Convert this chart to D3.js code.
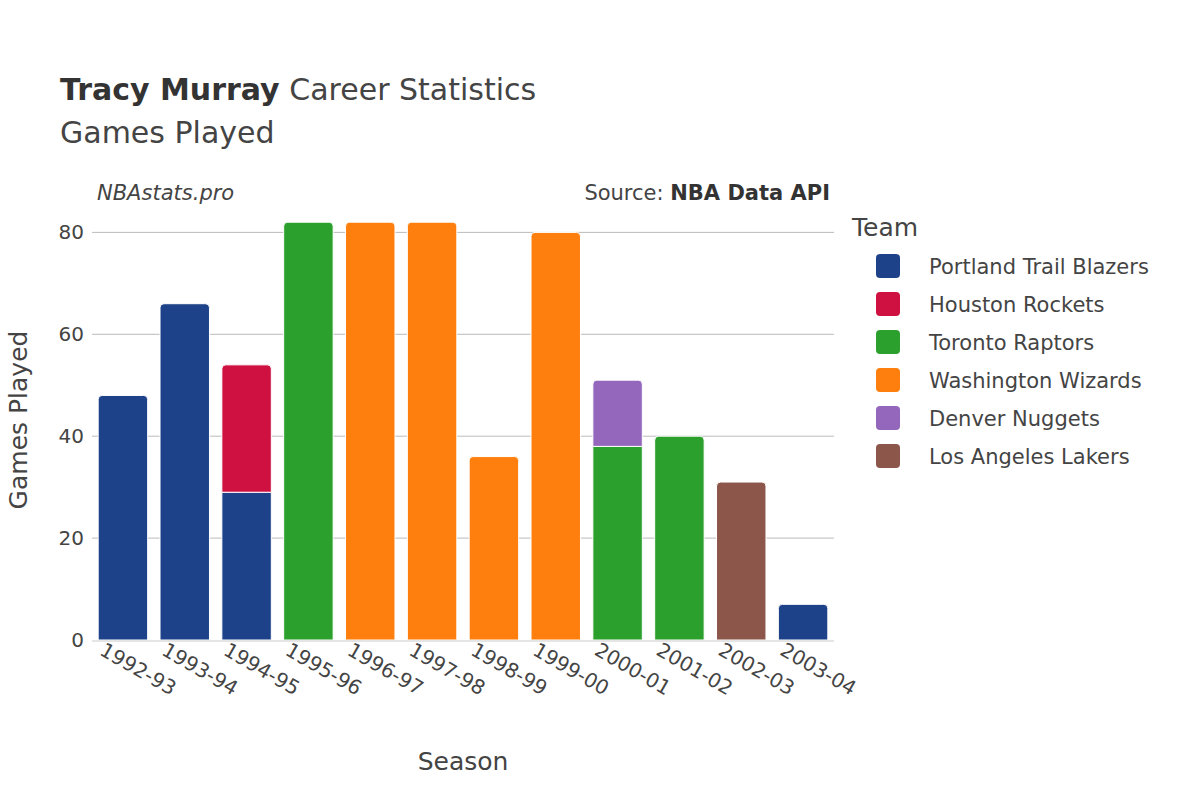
<!DOCTYPE html>
<html>
<head>
<meta charset="utf-8">
<script src="https://cdn.jsdelivr.net/npm/d3@7"></script>
<style>
body { margin: 0; background: #fff; }
text { font-family: "DejaVu Sans", "Noto Sans", sans-serif; fill: #444; }
</style>
</head>
<body>
<div id="chart"></div>
<script>
var seasons = ['1992-93', '1993-94', '1994-95', '1995-96', '1996-97', '1997-98',
               '1998-99', '1999-00', '2000-01', '2001-02', '2002-03', '2003-04']
var teams = ['Portland Trail Blazers', 'Houston Rockets', 'Toronto Raptors',
             'Washington Wizards', 'Denver Nuggets', 'Los Angeles Lakers']
var teamColors = ['#1d428a', '#ce1141', '#2ca02c', '#ff7f0e', '#9467bd', '#8c564b']
// games per season, one array per team
var games = {
    'Portland Trail Blazers': [48, 66, 29, 0, 0, 0, 0, 0, 0, 0, 0, 7],
    'Houston Rockets':        [0, 0, 25, 0, 0, 0, 0, 0, 0, 0, 0, 0],
    'Toronto Raptors':        [0, 0, 0, 82, 0, 0, 0, 0, 38, 40, 0, 0],
    'Washington Wizards':     [0, 0, 0, 0, 82, 82, 36, 80, 0, 0, 0, 0],
    'Denver Nuggets':         [0, 0, 0, 0, 0, 0, 0, 0, 13, 0, 0, 0],
    'Los Angeles Lakers':     [0, 0, 0, 0, 0, 0, 0, 0, 0, 0, 31, 0]
}
var yTicks = [0, 20, 40, 60, 80]

var W = 1200, H = 800
var pLeft = 92, pRight = 834, pTop = 212, pBottom = 640

var svg = d3.select('#chart').append('svg').attr('width', W).attr('height', H)

var x = d3.scaleBand().domain(seasons).range([pLeft, pRight]).paddingInner(0.2).paddingOuter(0.1)
var y = d3.scaleLinear().domain([0, 84]).range([pBottom, pTop])

// grid
svg.append('g').selectAll('line').data(yTicks.slice(1)).enter().append('line')
    .attr('x1', pLeft).attr('x2', pRight)
    .attr('y1', d => y(d)).attr('y2', d => y(d))
    .attr('stroke', '#bbb').attr('stroke-width', 1)

// stacked bars
var rows = seasons.map((s, i) => {
    var r = { season: s }
    teams.forEach(t => r[t] = games[t][i])
    return r
})
var stack = d3.stack().keys(teams)(rows)

function barPath(x0, y0, w, y1, rounded) {
    var r = rounded ? Math.min(4, (y0 - y1) / 2) : 0
    return `M${x0},${y0}V${y1 + r}Q${x0},${y1} ${x0 + r},${y1}H${x0 + w - r}Q${x0 + w},${y1} ${x0 + w},${y1 + r}V${y0}Z`
}

stack.forEach((layer, k) => {
    svg.append('g').selectAll('path')
        .data(layer.filter(d => d[1] > d[0]))
        .enter().append('path')
        .attr('d', d => {
            var total = d3.sum(teams, t => d.data[t])
            return barPath(x(d.data.season), y(d[0]), x.bandwidth(), y(d[1]), d[1] === total)
        })
        .attr('fill', teamColors[k])
        .attr('stroke', '#fff').attr('stroke-width', 1)
})

// axes
var yaxis = d3.axisLeft(y).tickValues(yTicks).tickSize(0).tickPadding(8)
svg.append('g').attr('transform', `translate(${pLeft},0)`).call(yaxis)
    .call(g => g.select('.domain').remove())
    .selectAll('text').style('font-size', '20px').style('font-family', '"DejaVu Sans", sans-serif').attr('fill', '#444')

svg.append('line').attr('x1', pLeft).attr('x2', pRight)
    .attr('y1', pBottom + 1).attr('y2', pBottom + 1).attr('stroke', '#e5e5e5').attr('stroke-width', 2)

var xaxis = d3.axisBottom(x).tickSize(0).tickPadding(0)
svg.append('g').attr('transform', `translate(0,${pBottom + 12})`).call(xaxis)
    .call(g => g.select('.domain').remove())
    .selectAll('text')
    .style('font-size', '20px').style('font-family', '"DejaVu Sans", sans-serif').attr('fill', '#444')
    .attr('text-anchor', 'start')
    .attr('dy', '0.7em')
    .attr('transform', 'rotate(30) translate(-20,0)')

// titles
var title = svg.append('text').attr('x', 60).attr('y', 100).style('font-size', '30px')
title.append('tspan').text('Tracy Murray').style('font-weight', 'bold').attr('fill', '#333')
title.append('tspan').text(' Career Statistics')
svg.append('text').attr('x', 60).attr('y', 143).style('font-size', '30px').text('Games Played')

svg.append('text').attr('x', 97).attr('y', 200).style('font-size', '21px')
    .style('font-style', 'italic').text('NBAstats.pro')
var src = svg.append('text').attr('x', 830).attr('y', 200).attr('text-anchor', 'end').style('font-size', '21px')
src.append('tspan').text('Source: ')
src.append('tspan').text('NBA Data API').style('font-weight', 'bold').attr('fill', '#333')

svg.append('text').attr('x', 463).attr('y', 770).attr('text-anchor', 'middle')
    .style('font-size', '25px').text('Season')
svg.append('text').attr('transform', 'translate(27,420) rotate(-90)').attr('text-anchor', 'middle')
    .style('font-size', '25px').text('Games Played')

// legend
svg.append('text').attr('x', 852).attr('y', 236).style('font-size', '25px').text('Team')
var lg = svg.append('g').selectAll('g').data(teams).enter().append('g')
    .attr('transform', (d, i) => `translate(876,${266 + i * 38})`)
lg.append('rect').attr('x', 0).attr('y', -12).attr('width', 24).attr('height', 24).attr('rx', 4)
    .attr('fill', (d, i) => teamColors[i])
lg.append('text').attr('x', 53).attr('y', 8).style('font-size', '21px').text(d => d)
</script>
</body>
</html>
